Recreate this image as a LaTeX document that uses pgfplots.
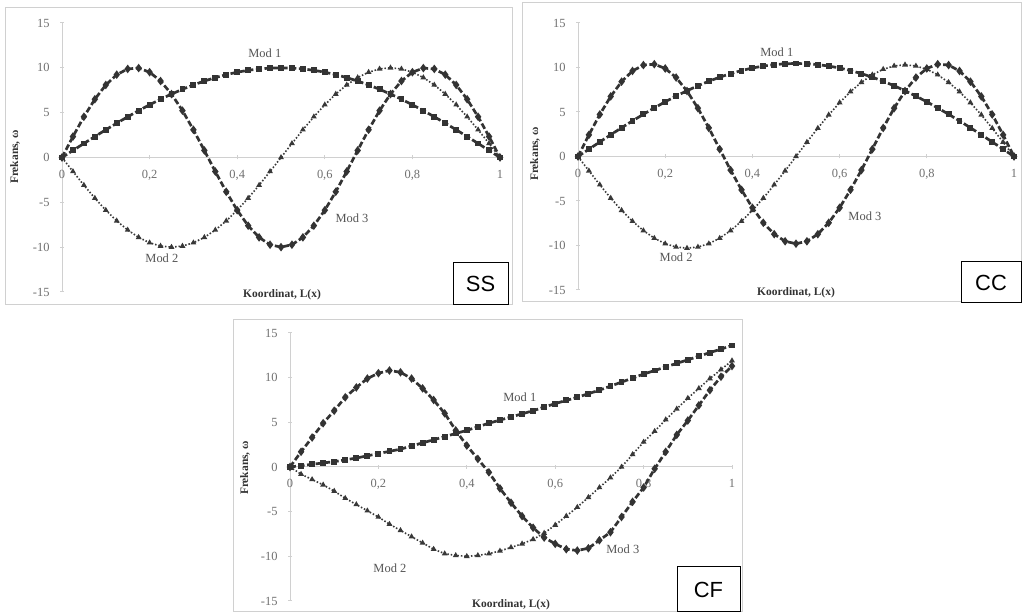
\documentclass[border=0pt]{standalone}
\usepackage{pgfplots}
\usepackage{pgfplotstable}
\pgfplotsset{compat=1.18}
\usepackage{fontspec}
\setmainfont{Liberation Serif}
\newfontfamily\sansf{Liberation Sans}

\definecolor{dk}{HTML}{333333}
\definecolor{md}{HTML}{383838}
\definecolor{fr}{HTML}{D0D0D0}
\definecolor{tk}{HTML}{707070}
\definecolor{lb}{HTML}{555555}

\pgfplotstableread{
x m1 m2 m3
0.000 0.000 0.000 0.000
0.025 0.785 -1.564 2.334
0.050 1.564 -3.090 4.540
0.075 2.334 -4.540 6.494
0.100 3.090 -5.878 8.090
0.125 3.827 -7.071 9.239
0.150 4.540 -8.090 9.877
0.175 5.225 -8.910 9.969
0.200 5.878 -9.511 9.511
0.225 6.494 -9.877 8.526
0.250 7.071 -10.000 7.071
0.275 7.604 -9.877 5.225
0.300 8.090 -9.511 3.090
0.325 8.526 -8.910 0.785
0.350 8.910 -8.090 -1.564
0.375 9.239 -7.071 -3.827
0.400 9.511 -5.878 -5.878
0.425 9.724 -4.540 -7.604
0.450 9.877 -3.090 -8.910
0.475 9.969 -1.564 -9.724
0.500 10.000 0.000 -10.000
0.525 9.969 1.564 -9.724
0.550 9.877 3.090 -8.910
0.575 9.724 4.540 -7.604
0.600 9.511 5.878 -5.878
0.625 9.239 7.071 -3.827
0.650 8.910 8.090 -1.564
0.675 8.526 8.910 0.785
0.700 8.090 9.511 3.090
0.725 7.604 9.877 5.225
0.750 7.071 10.000 7.071
0.775 6.494 9.877 8.526
0.800 5.878 9.511 9.511
0.825 5.225 8.910 9.969
0.850 4.540 8.090 9.877
0.875 3.827 7.071 9.239
0.900 3.090 5.878 8.090
0.925 2.334 4.540 6.494
0.950 1.564 3.090 4.540
0.975 0.785 1.564 2.334
1.000 0.000 0.000 0.000
}\ssdata

\pgfplotstableread{
x m1 m2 m3
0.000 0.000 0.000 0.000
0.025 0.820 -1.61 2.43
0.050 1.634 -3.18 4.72
0.075 2.439 -4.68 6.75
0.100 3.229 -6.05 8.41
0.125 3.999 -7.28 9.61
0.150 4.744 -8.33 10.27
0.175 5.460 -9.18 10.37
0.200 6.143 -9.80 9.89
0.225 6.786 -10.17 8.87
0.250 7.389 -10.30 7.35
0.275 7.946 -10.17 5.43
0.300 8.454 -9.80 3.21
0.325 8.910 -9.18 0.82
0.350 9.311 -8.33 -1.53
0.375 9.655 -7.28 -3.75
0.400 9.939 -6.05 -5.76
0.425 10.162 -4.68 -7.45
0.450 10.321 -3.18 -8.73
0.475 10.418 -1.61 -9.53
0.500 10.450 0.00 -9.80
0.525 10.418 1.61 -9.53
0.550 10.321 3.18 -8.73
0.575 10.162 4.68 -7.45
0.600 9.939 6.05 -5.76
0.625 9.655 7.28 -3.75
0.650 9.311 8.33 -1.53
0.675 8.910 9.18 0.82
0.700 8.454 9.80 3.21
0.725 7.946 10.17 5.43
0.750 7.389 10.30 7.35
0.775 6.786 10.17 8.87
0.800 6.143 9.80 9.89
0.825 5.460 9.18 10.37
0.850 4.744 8.33 10.27
0.875 3.999 7.28 9.61
0.900 3.229 6.05 8.41
0.925 2.439 4.68 6.75
0.950 1.634 3.18 4.72
0.975 0.820 1.61 2.43
1.000 0.000 0.00 0.00
}\ccdata

\pgfplotstableread{
x m1 m2 m3
0.000 0.00 0.0 0.0
0.025 0.15 -0.8 1.7
0.050 0.30 -1.4 3.3
0.075 0.45 -2.0 4.9
0.100 0.60 -2.7 6.3
0.125 0.80 -3.5 7.8
0.150 1.00 -4.2 8.9
0.175 1.25 -4.9 9.9
0.200 1.50 -5.6 10.5
0.225 1.75 -6.4 10.8
0.250 2.00 -7.1 10.6
0.275 2.35 -7.8 9.9
0.300 2.70 -8.5 8.8
0.325 3.05 -9.2 7.5
0.350 3.40 -9.7 6.0
0.375 3.75 -9.9 4.1
0.400 4.10 -10.0 2.4
0.425 4.50 -9.9 0.9
0.450 4.90 -9.7 -0.6
0.475 5.25 -9.4 -2.4
0.500 5.60 -9.0 -4.0
0.525 5.95 -8.6 -5.5
0.550 6.30 -8.1 -6.8
0.575 6.70 -7.4 -7.9
0.600 7.10 -6.5 -8.6
0.625 7.45 -5.5 -9.2
0.650 7.80 -4.5 -9.35
0.675 8.20 -3.4 -9.1
0.700 8.60 -2.3 -8.2
0.725 9.05 -1.2 -7.3
0.750 9.50 0.0 -5.6
0.775 9.95 1.4 -3.9
0.800 10.40 2.8 -2.3
0.825 10.80 4.0 -0.2
0.850 11.20 5.3 1.7
0.875 11.60 6.5 3.6
0.900 12.00 7.7 5.2
0.925 12.40 8.8 6.9
0.950 12.80 9.9 8.6
0.975 13.20 10.9 10.1
1.000 13.60 11.9 11.3
}\cfdata

\pgfplotsset{
  panel/.style={
    scale only axis, clip=false,
    xmin=0, xmax=1, ymin=-15, ymax=15,
    axis x line=middle, axis y line=left,
    axis line style={draw=fr, -, line width=1bp},
    hide obscured x ticks=false, hide obscured y ticks=false,
    xtick={0,0.2,0.4,0.6,0.8,1},
    xticklabels={0,{0,2},{0,4},{0,6},{0,8},1},
    ytick={-15,-10,-5,0,5,10,15},
    tick style={draw=fr, line width=1bp},
    major tick length=4bp,
    /pgf/number format/assume math mode=true,
    tick label style={font=\fontsize{12.5}{13}\selectfont, text=tk},
    xticklabel style={yshift=-7bp},
    yticklabel style={xshift=-7bp},
  },
  modeA/.style={dk, line width=2.7bp, dash pattern=on 6bp off 2.6bp,
    mark=square*, mark size=1.6bp, mark options={solid, fill=dk}},
  modeB/.style={md, line width=1.6bp, dash pattern=on 1.5bp off 1.9bp,
    mark=triangle*, mark size=1.8bp, mark options={solid, fill=md}},
  modeC/.style={dk, line width=2.7bp, dash pattern=on 6bp off 2.6bp,
    mark=diamond*, mark size=2.1bp, mark options={solid, fill=dk}},
}
\tikzset{modlab/.style={font=\fontsize{12.5}{13}\selectfont, text=lb}}

\begin{document}
\begin{tikzpicture}[x=1bp, y=1bp]
\useasboundingbox (0,0) rectangle (1024,615);
\fill[white] (0,0) rectangle (1024,615);
% frames
\draw[fr, line width=1bp] (5,310) rectangle (512,607);
\draw[fr, line width=1bp] (522,313) rectangle (1021,612);
\draw[fr, line width=1bp] (233,3) rectangle (742,295);

% ---- SS ----
\begin{axis}[panel, at={(62bp,323bp)}, anchor=south west, width=438bp, height=269bp]
\addplot[modeA] table[x=x, y=m1] {\ssdata};
\addplot[modeB] table[x=x, y=m2] {\ssdata};
\addplot[modeC] table[x=x, y=m3] {\ssdata};
\node[modlab] at (axis cs:0.463,11.65) {Mod 1};
\node[modlab] at (axis cs:0.228,-11.2) {Mod 2};
\node[modlab] at (axis cs:0.662,-6.75) {Mod 3};
\end{axis}

% ---- CC ----
\begin{axis}[panel, at={(578bp,325bp)}, anchor=south west, width=436bp, height=267bp]
\addplot[modeA] table[x=x, y=m1] {\ccdata};
\addplot[modeB] table[x=x, y=m2] {\ccdata};
\addplot[modeC] table[x=x, y=m3] {\ccdata};
\node[modlab] at (axis cs:0.456,11.7) {Mod 1};
\node[modlab] at (axis cs:0.225,-11.3) {Mod 2};
\node[modlab] at (axis cs:0.658,-6.7) {Mod 3};
\end{axis}

% ---- CF ----
\begin{axis}[panel, at={(290bp,14bp)}, anchor=south west, width=442bp, height=268bp]
\addplot[modeA] table[x=x, y=m1] {\cfdata};
\addplot[modeB] table[x=x, y=m2] {\cfdata};
\addplot[modeC] table[x=x, y=m3] {\cfdata};
\node[modlab] at (axis cs:0.52,7.8) {Mod 1};
\node[modlab] at (axis cs:0.226,-11.3) {Mod 2};
\node[modlab] at (axis cs:0.753,-9.2) {Mod 3};
\end{axis}

% axis labels
\foreach \p in {(15,458),(535,461),(245,147)}
  \node[rotate=90, font=\bfseries\fontsize{11.5}{12}\selectfont, text=dk] at \p {Frekans, ω};
\foreach \p in {(282,320),(796,322),(511,10)}
  \node[font=\bfseries\fontsize{11.5}{12}\selectfont, text=dk] at \p {Koordinat, L(x)};

% case boxes
\draw[black, line width=1bp, fill=white] (453,310) rectangle node[font=\sansf\fontsize{22}{22}\selectfont] {SS} (508,352);
\draw[black, line width=1bp, fill=white] (961,312) rectangle node[font=\sansf\fontsize{22}{22}\selectfont] {CC} (1021,353);
\draw[black, line width=1bp, fill=white] (677,3) rectangle node[font=\sansf\fontsize{22}{22}\selectfont] {CF} (740,48);
\end{tikzpicture}
\end{document}
